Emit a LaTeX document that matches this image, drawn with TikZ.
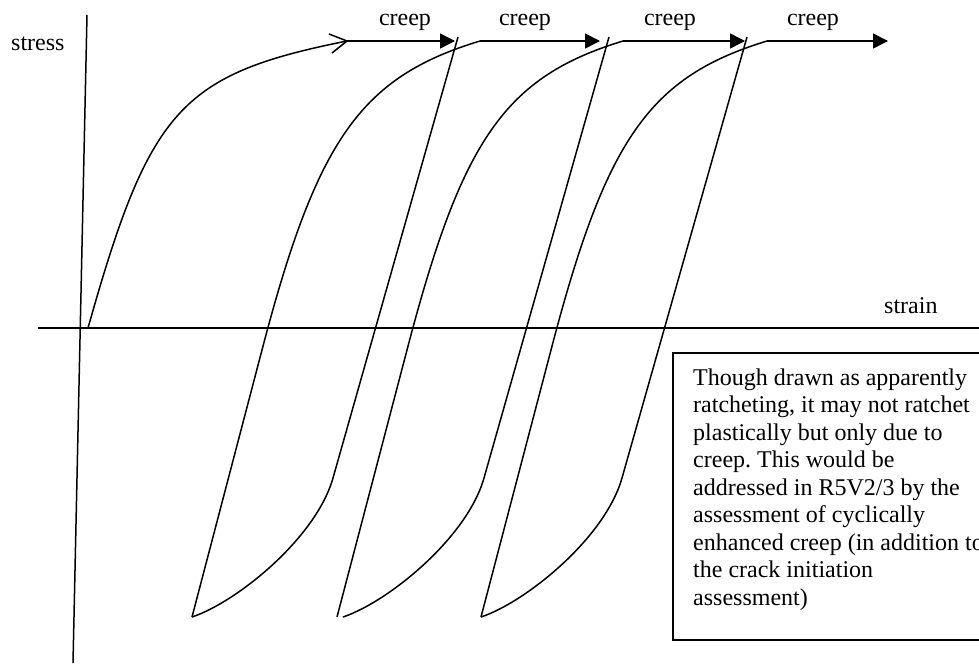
\documentclass[tikz,border=0pt]{standalone}
\usepackage{fontspec}
\setmainfont{Liberation Serif}
\usetikzlibrary{arrows.meta}
\tikzset{
  curve/.style={line width=1.5pt, line join=round},
  axis/.style={line width=1.5pt},
  creeparrow/.style={line width=1.5pt, -{Triangle[length=15pt,width=15pt]}},
  lbl/.style={inner sep=0pt, anchor=base west, font=\fontsize{24}{27.5}\selectfont},
  boxtext/.style={inner sep=0pt, anchor=north west, align=left, font=\fontsize{24}{27.5}\selectfont}
}
\begin{document}
\frenchspacing
\begin{tikzpicture}[x=1pt,y=-1pt]
\clip (0,0) rectangle (979,664);
\fill[white] (0,0) rectangle (979,664);
% axes
\draw[axis] (87,15) -- (73,663);
\draw[axis] (38,328) -- (985,328);
\node[lbl] (stress) at (11,50) {stress};
\node[lbl] (strain) at (884,313) {strain};
% initial loading
\draw[curve] (88,328) .. controls (149.6,108.9) and (180.7,74.3) .. (347,41);
\draw[curve] (329,34) -- (347,41) -- (332,53);
% creep arrows
\draw[creeparrow] (347,41) -- (455,41);
\draw[creeparrow] (480,41) -- (600,41);
\draw[creeparrow] (623,41) -- (745,41);
\draw[creeparrow] (767,41) -- (888,41);
\node[lbl, anchor=base] (c1) at (405,25) {creep};
\node[lbl, anchor=base] (c2) at (525,25) {creep};
\node[lbl, anchor=base] (c3) at (670,25) {creep};
\node[lbl, anchor=base] (c4) at (813,25) {creep};
% unloading branches
\draw[curve] (458,37) -- (333,478) .. controls (316,538) and (237,602) .. (192,617);
\draw[curve] (609,37) -- (484,478) .. controls (467,538) and (388,602) .. (343,617);
\draw[curve] (747,37) -- (622,478) .. controls (605,538) and (526,602) .. (481,617);
% reloading branches
\draw[curve] (192,617) -- (262,350) .. controls (317,139) and (361,77) .. (480,41);
\draw[curve] (337,617) -- (407,350) .. controls (462,139) and (505,77) .. (623,41);
\draw[curve] (481,617) -- (551,350) .. controls (606,139) and (649,77) .. (767,41);
% note box
\draw[axis] (673,353) rectangle (1000,640);
\node[boxtext] (note) at (693,365.75) {\strut Though drawn as apparently\\
ratcheting, it may not ratchet\\
plastically but only due to\\
creep. This would be\\
addressed in R5V2/3 by the\\
assessment of cyclically\\
enhanced creep (in addition to\\
the crack initiation\\
assessment)};
\end{tikzpicture}
\end{document}
